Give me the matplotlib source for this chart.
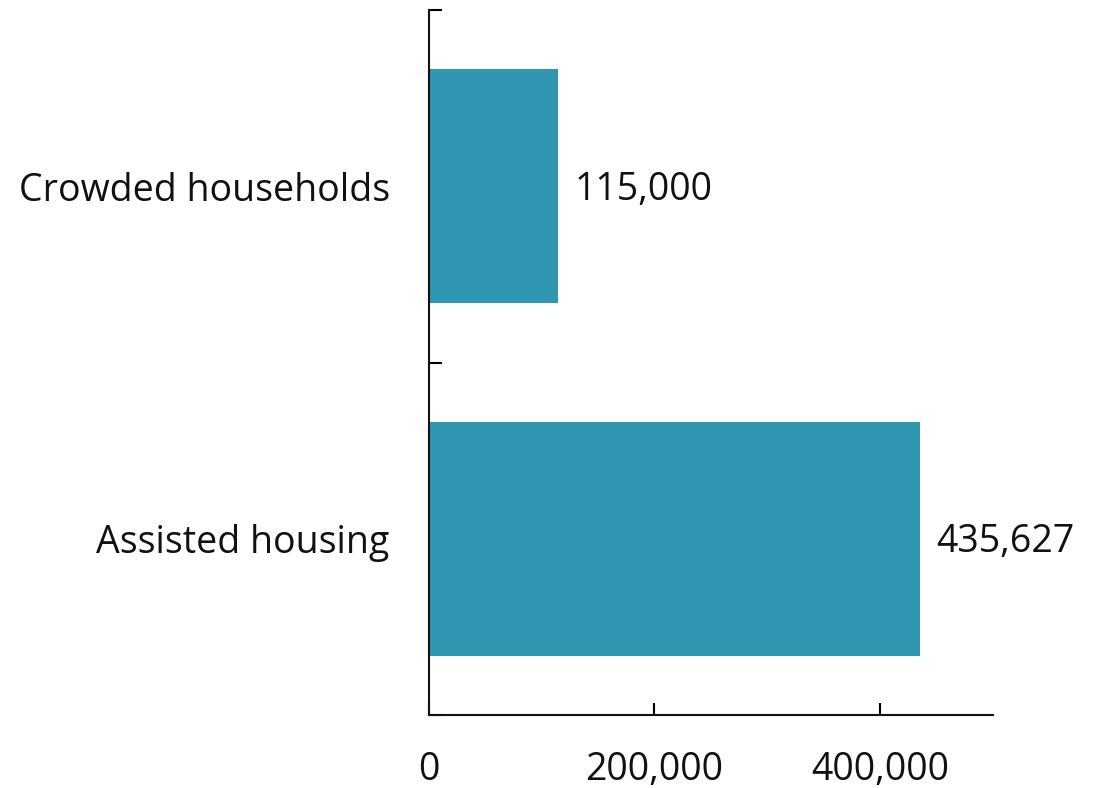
import matplotlib.pyplot as plt
import numpy as np

plt.rcParams['font.family'] = ['Open Sans', 'DejaVu Sans']

categories = ["Assisted housing", "Crowded households"]
values = [435627, 115000]
value_labels = ["435,627", "115,000"]
xticks = [0, 200000, 400000]
xtick_labels = ["0", "200,000", "400,000"]

bar_color = "#3097b3"
text_color = "#111111"

fig = plt.figure(figsize=(10.99, 7.88), dpi=100)
ax = fig.add_axes([0.390, 0.0926, 0.5136, 0.8947])

y = np.arange(len(categories))
ax.barh(y, values, height=0.664, color=bar_color)

for yi, v, lab in zip(y, values, value_labels):
    ax.text(v + 14000, yi - 0.01, lab, va="center", ha="left", fontsize=27, color=text_color)

ax.set_xlim(0, 500000)
ax.set_ylim(-0.5, 1.5)

ax.set_xticks(xticks)
ax.set_xticklabels(xtick_labels, fontsize=27, color=text_color)
ax.tick_params(axis="x", direction="in", length=9, width=1.5, pad=26)

ax.set_yticks([-0.5, 0.5, 1.5])
ax.set_yticklabels([])
ax.set_yticks(y, minor=True)
ax.set_yticklabels(categories, minor=True, fontsize=27, color=text_color)
ax.tick_params(axis="y", which="major", direction="in", length=9, width=1.5)
ax.tick_params(axis="y", which="minor", length=0, pad=28)

for s in ["top", "right"]:
    ax.spines[s].set_visible(False)
for s in ["left", "bottom"]:
    ax.spines[s].set_linewidth(1.5)
    ax.spines[s].set_color("#111111")

fig.savefig("out.png", dpi=100)
